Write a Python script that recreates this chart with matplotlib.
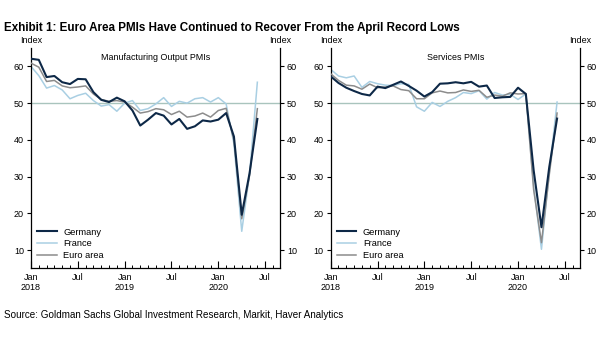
import numpy as np
import matplotlib
matplotlib.use('Agg')
import matplotlib.pyplot as plt

plt.rcParams['font.family'] = ['Liberation Sans', 'DejaVu Sans']

# Monthly PMI readings, Jan 2018 .. Jun 2020 (30 months)
months = np.arange(30)
tick_labels = ['Jan\n2018', 'Jul', 'Jan\n2019', 'Jul', 'Jan\n2020', 'Jul']
tick_pos = [0, 6, 12, 18, 24, 30]

mfg_germany = [62.1, 61.8, 57.1, 57.4, 55.7, 55.2, 56.6, 56.5, 53.0, 50.9, 50.3, 51.5,
               50.5, 48.0, 43.9, 45.5, 47.3, 46.6, 44.2, 45.7, 43.0, 43.7, 45.3, 45.0,
               45.5, 47.3, 40.9, 19.6, 30.9, 45.7]
mfg_france = [60.0, 57.5, 54.1, 54.8, 53.6, 51.2, 52.1, 52.7, 50.7, 49.2, 49.6, 47.8,
              50.0, 50.7, 48.0, 48.5, 49.8, 51.5, 49.1, 50.5, 50.0, 51.2, 51.5, 50.3,
              51.5, 49.8, 38.9, 15.1, 30.7, 55.7]
mfg_euro = [60.9, 59.8, 55.9, 56.2, 54.7, 54.2, 54.4, 54.7, 52.5, 51.0, 50.5, 50.7,
            50.3, 48.9, 47.3, 47.7, 48.5, 48.2, 46.9, 47.8, 46.2, 46.5, 47.3, 46.2,
            48.0, 48.6, 39.8, 18.5, 30.3, 48.5]

srv_germany = [57.3, 55.5, 54.2, 53.3, 52.5, 52.1, 54.5, 54.1, 55.0, 55.9, 54.7, 53.4,
               51.8, 53.0, 55.3, 55.4, 55.7, 55.4, 55.8, 54.5, 54.8, 51.4, 51.6, 51.7,
               54.2, 52.5, 31.7, 16.2, 32.6, 45.8]
srv_france = [59.2, 57.4, 56.9, 57.4, 54.3, 55.9, 55.3, 54.9, 54.8, 55.3, 55.1, 49.0,
              47.8, 50.2, 49.1, 50.5, 51.5, 52.9, 52.6, 53.4, 51.1, 52.9, 52.2, 52.4,
              51.0, 52.5, 27.4, 10.2, 31.1, 50.3]
srv_euro = [58.0, 56.2, 54.9, 54.7, 53.8, 55.2, 54.2, 54.4, 54.7, 53.7, 53.4, 51.2,
            51.2, 52.8, 53.3, 52.8, 52.9, 53.6, 53.2, 53.5, 51.6, 52.2, 51.9, 52.8,
            52.5, 52.6, 26.4, 12.0, 30.5, 47.3]

GERMANY = '#0d2847'
FRANCE = '#a9cfe3'
EURO = '#8c8c8c'
REF = '#a9c4bd'

fig = plt.figure(figsize=(6.05, 3.41), dpi=100)
panels = [
    (0.0512, 'Manufacturing Output PMIs', mfg_germany, mfg_france, mfg_euro),
    (0.5466, 'Services PMIs', srv_germany, srv_france, srv_euro),
]
for left, title, de, fr, ea in panels:
    ax = fig.add_axes([left, 0.213, 0.4116, 0.646])
    ax.axhline(50, color=REF, lw=1.0, zorder=1)
    ax.plot(months, fr, color=FRANCE, lw=1.1, label='France', zorder=2)
    ax.plot(months, ea, color=EURO, lw=1.1, label='Euro area', zorder=3)
    ax.plot(months, de, color=GERMANY, lw=1.5, label='Germany', zorder=4)
    ax.set_xlim(0, 31.9)
    ax.set_ylim(5, 65)
    ax.spines['top'].set_visible(False)
    for s in ('left', 'right', 'bottom'):
        ax.spines[s].set_linewidth(0.9)
    ax.set_yticks([10, 20, 30, 40, 50, 60])
    ax.tick_params(axis='y', which='both', left=True, right=True, labelleft=True,
                   labelright=True, direction='out', length=3, width=0.8,
                   labelsize=6.5, pad=2)
    ax.set_xticks(tick_pos)
    ax.set_xticklabels(tick_labels)
    ax.set_xticks(np.arange(0, 32), minor=True)
    ax.tick_params(axis='x', which='major', direction='in', length=5, width=0.8,
                   labelsize=6.5, pad=3)
    ax.tick_params(axis='x', which='minor', direction='in', length=2.5, width=0.7)
    ax.text(0.5, 0.955, title, transform=ax.transAxes, ha='center', va='center',
            fontsize=6.4)
    ax.text(0.0, 1.015, 'Index', transform=ax.transAxes, ha='center', va='bottom',
            fontsize=6.5)
    ax.text(1.0, 1.015, 'Index', transform=ax.transAxes, ha='center', va='bottom',
            fontsize=6.5)
    h, l = ax.get_legend_handles_labels()
    order = [2, 0, 1]
    ax.legend([h[i] for i in order], [l[i] for i in order], loc='lower left',
              frameon=False, fontsize=6.7, handlelength=2.1, handletextpad=0.7,
              labelspacing=0.3, borderaxespad=0.0, bbox_to_anchor=(0.01, 0.02))

fig.text(0.007, 0.918, 'Exhibit 1: Euro Area PMIs Have Continued to Recover From the April Record Lows',
         fontsize=8.4, fontweight='bold', ha='left', va='center')
fig.text(0.007, 0.076, 'Source: Goldman Sachs Global Investment Research, Markit, Haver Analytics',
         fontsize=7.1, ha='left', va='center')

fig.savefig('out.png', dpi=100)
